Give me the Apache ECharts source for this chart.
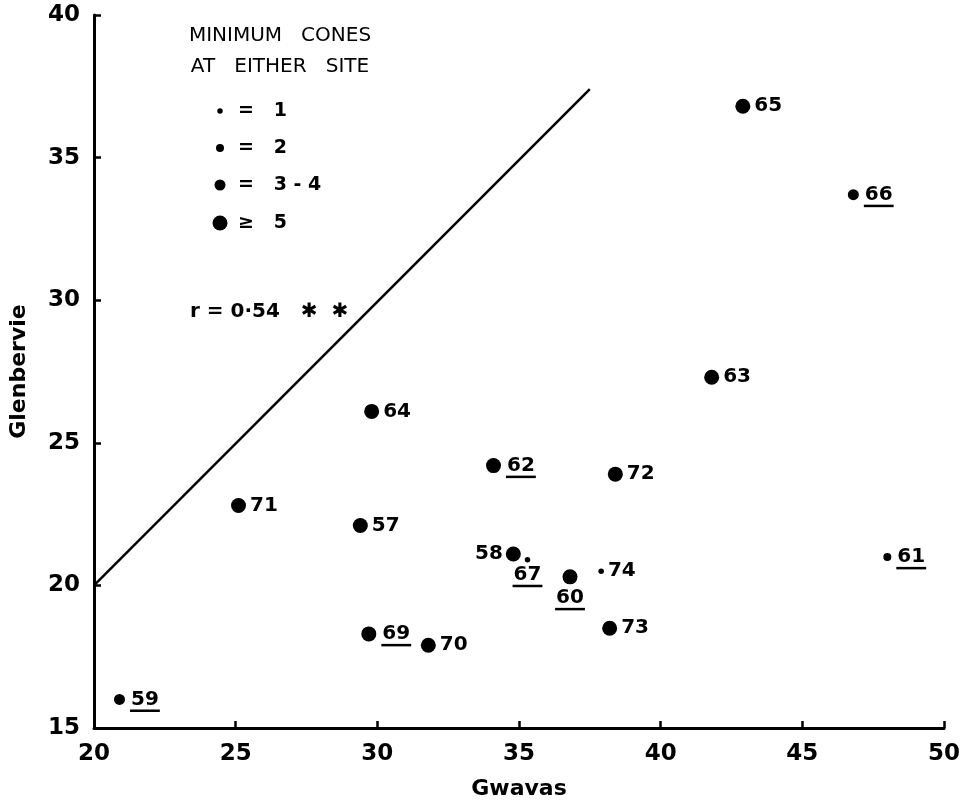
<!DOCTYPE html>
<html>
<head>
<meta charset="utf-8">
<script src="https://cdn.jsdelivr.net/npm/echarts@6/dist/echarts.min.js"></script>
<style>
  html, body { margin: 0; padding: 0; background: #fff; }
  #chart { width: 970px; height: 805px; }
</style>
</head>
<body>
<div id="chart"></div>
<script>
// cone years (labels), Gwavas vs Glenbervie
const years = ['57', '58', '59', '60', '61', '62', '63', '64', '65', '66', '67', '69', '70', '71', '72', '73', '74']
const gwavas = [29.4, 34.8, 20.9, 36.8, 48.0, 34.1, 41.8, 29.8, 42.9, 46.8, 35.3, 29.7, 31.8, 25.1, 38.4, 38.2, 37.9]
const glenbervie = [22.1, 21.1, 16.0, 20.3, 21.0, 24.2, 27.3, 26.1, 36.8, 33.7, 20.9, 18.3, 17.9, 22.8, 23.9, 18.5, 20.5]
// minimum cones at either site (class)
const cones = ['≥5', '≥5', '3-4', '≥5', '2', '≥5', '≥5', '≥5', '≥5', '3-4', '1', '≥5', '≥5', '≥5', '≥5', '≥5', '1']
// years printed underlined in the original
const underlined = ['59', '60', '61', '62', '66', '67', '69']

// fitted line r = 0.54
const lineX = [20, 37.5]
const lineY = [20, 37.4]

const coneClasses = ['1', '2', '3-4', '≥5']
const coneSize = { '1': 5.5, '2': 8, '3-4': 11, '≥5': 15 }
const labelPos = { '58': 'left', '67': 'below', '60': 'below' }

const FONT = '"DejaVu Sans", sans-serif'
const labelFont = 'bold 20px ' + FONT

const measure = document.createElement('canvas').getContext('2d')
function textWidth(t, font) {
  measure.font = font
  return measure.measureText(t).width
}

const chart = echarts.init(document.getElementById('chart'))

// legend drawn by hand (dots of different sizes)
const legendRows = [
  { cls: '1', text: '=   1', y: 111 },
  { cls: '2', text: '=   2', y: 148 },
  { cls: '3-4', text: '=   3 - 4', y: 185 },
  { cls: '≥5', text: '≥   5', y: 223 }
]
const legendGraphics = [
  { type: 'text', x: 280, y: 36, style: { text: 'MINIMUM   CONES', font: '20px ' + FONT, fill: '#000', align: 'center', verticalAlign: 'middle' } },
  { type: 'text', x: 280, y: 67, style: { text: 'AT   EITHER   SITE', font: '20px ' + FONT, fill: '#000', align: 'center', verticalAlign: 'middle' } }
]
legendRows.forEach(r => {
  legendGraphics.push({
    type: 'circle', shape: { cx: 220, cy: r.y, r: coneSize[r.cls] / 2 }, style: { fill: '#000' }
  })
  legendGraphics.push({
    type: 'text', x: 238, y: r.y, style: { text: r.text, font: 'bold 19px ' + FONT, fill: '#000', verticalAlign: 'middle' }
  })
})
legendGraphics.push({
  type: 'text', x: 190, y: 312,
  style: { text: 'r = 0·54   ✱  ✱', font: 'bold 20px ' + FONT, fill: '#000', verticalAlign: 'middle' }
})

chart.setOption({
  animation: false,
  backgroundColor: '#fff',
  grid: { left: 92, right: 26, top: 15, bottom: 75 },
  xAxis: {
    type: 'value', min: 20, max: 50, interval: 5,
    name: 'Gwavas', nameLocation: 'middle', nameGap: 50,
    nameTextStyle: { color: '#000', fontSize: 22, fontFamily: FONT, fontWeight: 'bold' },
    axisLine: { lineStyle: { color: '#000', width: 3 } },
    axisTick: { inside: true, length: 7, lineStyle: { color: '#000', width: 2.5 } },
    axisLabel: { color: '#000', fontSize: 23, fontWeight: 'bold', fontFamily: FONT, margin: 15 },
    splitLine: { show: false }
  },
  yAxis: {
    type: 'value', min: 15, max: 40, interval: 5,
    name: 'Glenbervie', nameLocation: 'middle', nameGap: 64, nameRotate: 90,
    nameTextStyle: { color: '#000', fontSize: 22, fontFamily: FONT, fontWeight: 'bold' },
    axisLine: { show: true, lineStyle: { color: '#000', width: 3 } },
    axisTick: { show: true, inside: true, length: 7, lineStyle: { color: '#000', width: 2.5 } },
    axisLabel: { color: '#000', fontSize: 23, fontWeight: 'bold', fontFamily: FONT, margin: 14 },
    splitLine: { show: false }
  },
  graphic: legendGraphics,
  series: [
    {
      type: 'line',
      data: lineX.map((x, i) => [x, lineY[i]]),
      symbol: 'none', silent: true,
      lineStyle: { color: '#000', width: 2.5 }
    },
    {
      type: 'scatter',
      data: years.map((y, i) => [gwavas[i], glenbervie[i], i]),
      symbol: 'circle',
      symbolSize: v => coneSize[cones[v[2]]],
      itemStyle: { color: '#000', opacity: 1 }
    },
    {
      type: 'custom',
      data: years.map((y, i) => [gwavas[i], glenbervie[i], i]),
      silent: true,
      renderItem: (params, api) => {
        const i = api.value(2)
        const p = api.coord([api.value(0), api.value(1)])
        const yr = years[i]
        const r = coneSize[cones[i]] / 2
        const pos = labelPos[yr] || 'right'
        const w = textWidth(yr, labelFont)
        let x, y
        if (pos === 'left') { x = p[0] - r - 3 - w; y = p[1] }
        else if (pos === 'below') { x = p[0] - w / 2; y = p[1] + (r > 4 ? 21 : 15) }
        else { x = p[0] + r + (underlined.includes(yr) ? 6 : 4); y = p[1] }
        const children = [{
          type: 'text', x: x, y: y,
          style: { text: yr, font: labelFont, fill: '#000', verticalAlign: 'middle' }
        }]
        if (underlined.includes(yr)) {
          children.push({ type: 'rect', shape: { x: x - 1, y: y + 10, width: w + 2, height: 2.5 }, style: { fill: '#000' } })
        }
        return { type: 'group', children: children }
      }
    }
  ]
})
</script>
</body>
</html>
